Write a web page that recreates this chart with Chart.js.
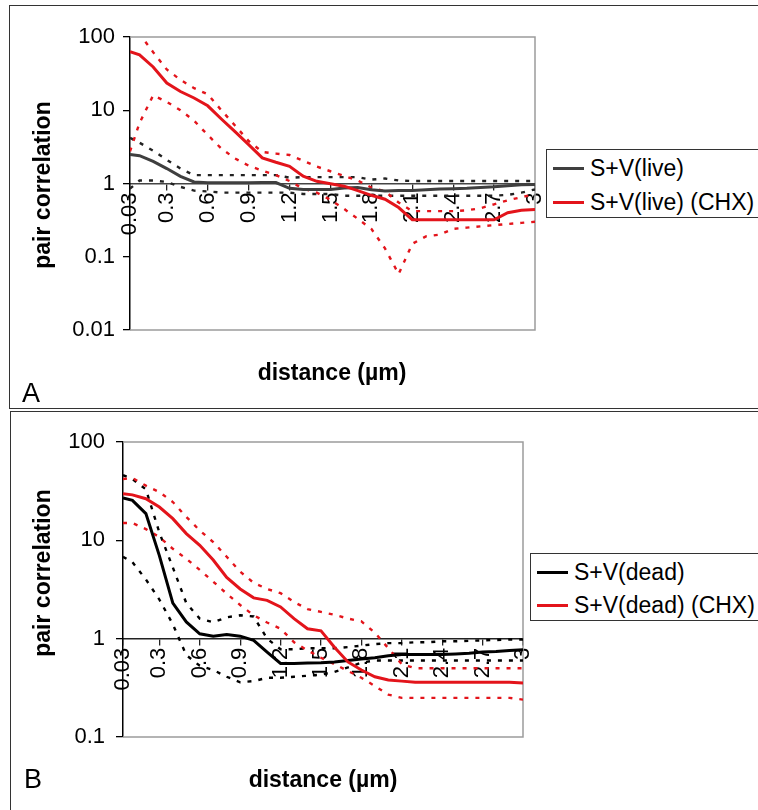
<!DOCTYPE html>
<html>
<head>
<meta charset="utf-8">
<script src="https://cdn.jsdelivr.net/npm/chart.js@4.4.1/dist/chart.umd.min.js"></script>
<style>
  body { margin: 0; width: 758px; height: 810px; overflow: hidden; background: #fff; position: relative;
         font-family: "Liberation Sans", Arial, sans-serif; color: #000; }
  .panel { position: absolute; border: 1.5px solid #333; }
  #panelA { left: 9px; top: 5px; width: 800px; height: 402px; }
  #panelB { left: 10px; top: 411px; width: 800px; height: 450px; }
  canvas { position: absolute; left: 0; }
  .ytitle { position: absolute; font-weight: bold; font-size: 23px; white-space: nowrap;
            transform: translate(-50%, -50%) rotate(-90deg); }
  .xtitle { position: absolute; font-weight: bold; font-size: 23px; white-space: nowrap;
            transform: translate(-50%, -50%); }
  .tag { position: absolute; font-size: 27px; }
  .legend { position: absolute; border: 1.5px solid #333; background: #fff; width: 260px; }
  .legend div { position: absolute; left: 6px; font-size: 23px; white-space: nowrap; line-height: 26px; }
  .legend span { display: inline-block; width: 31px; height: 0; border-top: 3px solid; vertical-align: middle;
                 margin-right: 6px; position: relative; top: -1px; }
</style>
</head>
<body>
<div class="panel" id="panelA"></div>
<div class="panel" id="panelB"></div>

<canvas id="chartA" width="758" height="410" style="top:0"></canvas>
<canvas id="chartB" width="758" height="400" style="top:410px"></canvas>

<div class="ytitle" style="left:42px; top:185px">pair correlation</div>
<div class="xtitle" style="left:332px; top:372px">distance (µm)</div>
<div class="tag" style="left:22px; top:378px">A</div>

<div class="ytitle" style="left:42px; top:573px">pair correlation</div>
<div class="xtitle" style="left:323px; top:779px">distance (µm)</div>
<div class="tag" style="left:24px; top:764px">B</div>

<div class="legend" id="legendA" style="left:546px; top:149px; height:67px"></div>
<div class="legend" id="legendB" style="left:530px; top:553px; height:66px"></div>

<script>
// distances (µm) where the curves were read
const distances = [0.03, 0.1, 0.2, 0.3, 0.4, 0.5, 0.6, 0.7, 0.8, 0.9, 1.0,
  1.1, 1.2, 1.3, 1.4, 1.5, 1.6, 1.7, 1.8, 1.9, 2.0,
  2.1, 2.2, 2.3, 2.4, 2.5, 2.6, 2.7, 2.8, 2.9, 3.0];

const xTicks = [0.03, 0.3, 0.6, 0.9, 1.2, 1.5, 1.8, 2.1, 2.4, 2.7, 3];
const xTickLabels = ["0.03", "0.3", "0.6", "0.9", "1.2", "1.5", "1.8", "2.1", "2.4", "2.7", "3"];

const yTicksA = [0.01, 0.1, 1, 10, 100];
const yTickLabelsA = ["0.01", "0.1", "1", "10", "100"];
const yTicksB = [0.1, 1, 10, 100];
const yTickLabelsB = ["0.1", "1", "10", "100"];

/////////////////////////////// panel A : live
const liveMean  = [2.48, 2.4, 2.0, 1.6, 1.25, 1.05, 1.02, 1.02, 1.02, 1.02, 1.03,
  1.03, 0.86, 0.83, 0.83, 0.83, 0.87, 0.88, 0.82, 0.79, 0.8,
  0.8, 0.82, 0.84, 0.85, 0.86, 0.88, 0.9, 0.93, 0.96, 0.97];
const liveUpper = [4.2, 3.6, 2.8, 2.1, 1.6, 1.3, 1.3, 1.3, 1.3, 1.3, 1.3,
  1.3, 1.2, 1.22, 1.22, 1.22, 1.22, 1.22, 1.13, 1.17, 1.1,
  1.08, 1.08, 1.08, 1.08, 1.08, 1.08, 1.08, 1.08, 1.08, 1.08];
const liveLower = [0.85, 1.1, 1.1, 1.05, 0.9, 0.8, 0.78, 0.75, 0.75, 0.75, 0.75,
  0.75, 0.75, 0.72, 0.72, 0.72, 0.68, 0.68, 0.68, 0.68, 0.68,
  0.68, 0.68, 0.68, 0.68, 0.68, 0.68, 0.68, 0.7, 0.75, 0.83];

const liveChxMean  = [63, 57, 39, 23.5, 18, 14.7, 11.5, 7.6, 5.1, 3.4, 2.24,
  1.95, 1.72, 1.26, 1.07, 0.99, 0.92, 0.8, 0.69, 0.61, 0.47,
  0.32, 0.32, 0.32, 0.32, 0.32, 0.32, 0.32, 0.4, 0.43, 0.44];
const liveChxUpper = [140, 110, 62, 36, 26, 20, 16.5, 10, 6.2, 3.8, 2.7,
  2.56, 2.45, 2.05, 1.7, 1.47, 1.27, 1.1, 0.88, 0.78, 0.55,
  0.42, 0.42, 0.42, 0.42, 0.43, 0.46, 0.52, 0.59, 0.65, 0.72];
const liveChxLower = [2.75, 6.7, 16, 13, 10, 7.2, 4.6, 3.0, 2.2, 1.75, 1.5,
  1.3, 1.08, 0.85, 0.75, 0.6, 0.45, 0.33, 0.24, 0.13, 0.058,
  0.15, 0.19, 0.2, 0.24, 0.25, 0.26, 0.27, 0.28, 0.29, 0.3];

/////////////////////////////// panel B : dead
const deadMean  = [27, 25.5, 18.7, 7.0, 2.3, 1.48, 1.12, 1.06, 1.1, 1.06, 0.96,
  0.73, 0.56, 0.56, 0.565, 0.57, 0.58, 0.6, 0.62, 0.64, 0.67,
  0.69, 0.69, 0.69, 0.69, 0.7, 0.71, 0.73, 0.74, 0.76, 0.77];
const deadUpper = [46, 42, 33, 12, 5.3, 2.3, 1.6, 1.47, 1.65, 1.73, 1.68,
  1.0, 0.78, 0.78, 0.8, 0.8, 0.8, 0.82, 0.85, 0.88, 0.9,
  0.9, 0.92, 0.92, 0.94, 0.94, 0.95, 0.96, 0.97, 0.98, 0.98];
const deadLower = [6.8, 6.0, 4.0, 2.5, 1.4, 0.68, 0.53, 0.48, 0.41, 0.36, 0.37,
  0.4, 0.4, 0.41, 0.42, 0.43, 0.46, 0.51, 0.57, 0.6, 0.6,
  0.6, 0.6, 0.6, 0.6, 0.6, 0.6, 0.6, 0.6, 0.6, 0.6];

const deadChxMean  = [29.8, 29, 26.5, 21.8, 16.6, 11.7, 8.9, 6.3, 4.2, 3.2, 2.6,
  2.45, 2.1, 1.6, 1.26, 1.2, 0.82, 0.58, 0.48, 0.41, 0.38,
  0.37, 0.36, 0.36, 0.36, 0.36, 0.36, 0.36, 0.36, 0.36, 0.355];
const deadChxUpper = [42, 43, 36, 31, 24.5, 17.3, 12.6, 9.6, 6.8, 4.8, 3.7,
  3.2, 2.9, 2.36, 2.0, 1.87, 1.75, 1.6, 1.5, 1.15, 0.8,
  0.55, 0.5, 0.5, 0.5, 0.5, 0.5, 0.5, 0.5, 0.5, 0.5];
const deadChxLower = [15, 15, 13, 10.8, 8.2, 6.5, 5.0, 3.8, 2.87, 2.2, 1.73,
  1.46, 1.26, 0.92, 0.76, 0.64, 0.55, 0.47, 0.4, 0.33, 0.27,
  0.25, 0.25, 0.25, 0.25, 0.25, 0.25, 0.25, 0.25, 0.25, 0.24];

const RED = "#e3141b";
const FONT = "'Liberation Sans', Arial, sans-serif";

// gray frame on top / right / bottom of the plot area (Excel style)
const plotFrame = {
  id: "plotFrame",
  beforeDatasetsDraw(chart) {
    const { ctx, chartArea: a } = chart;
    ctx.save();
    ctx.strokeStyle = "#9c9c9c";
    ctx.lineWidth = 1.5;
    ctx.beginPath();
    ctx.moveTo(a.left, a.top);
    ctx.lineTo(a.right, a.top);
    ctx.lineTo(a.right, a.bottom);
    ctx.lineTo(a.left, a.bottom);
    ctx.stroke();
    ctx.restore();
  }
};

function buildChart(id, o) {
  const ctx = document.getElementById(id).getContext("2d");
  return new Chart(ctx, {
    type: "line",
    data: {
      datasets: o.series.map(s => ({
        label: s.label,
        data: distances.map((d, i) => ({ x: d, y: s.values[i] })),
        borderColor: s.color,
        borderWidth: s.dashed ? 2.4 : 3,
        borderDash: s.dashed ? [4, 7] : [],
        pointRadius: 0,
        tension: 0,
        fill: false
      }))
    },
    options: {
      responsive: false,
      animation: false,
      events: [],
      layout: { padding: o.padding },
      plugins: { legend: { display: false }, tooltip: { enabled: false } },
      scales: {
        x: {
          type: "linear",
          min: 0.03,
          max: 3,
          position: { y: 1 },
          afterBuildTicks: s => { s.ticks = xTicks.map(v => ({ value: v })); },
          afterFit: s => { s.height = 0; },
          ticks: {
            autoSkip: false, minRotation: 90, maxRotation: 90, padding: 3,
            color: "#000", font: { family: FONT, size: 22 },
            callback: (v, i) => xTickLabels[i]
          },
          grid: { drawOnChartArea: false, drawTicks: true, tickLength: 6, color: "#222", lineWidth: 1.3 },
          border: { color: o.axisColor, width: 1.5 }
        },
        y: {
          type: "logarithmic",
          min: o.yMin,
          max: 100,
          afterBuildTicks: s => { s.ticks = o.yTicks.map(v => ({ value: v })); },
          afterFit: s => { s.width = o.yWidth; },
          ticks: {
            padding: o.yPad, color: "#000", font: { family: FONT, size: 22 },
            callback: (v, i) => o.yLabels[i]
          },
          grid: { drawOnChartArea: false, tickLength: 7, color: "#000", lineWidth: 1.3 },
          border: { color: "#000", width: 1.5 }
        }
      }
    },
    plugins: [plotFrame]
  });
}

function buildLegend(id, items, rowTops) {
  const box = document.getElementById(id);
  items.forEach((it, i) => {
    const row = document.createElement("div");
    row.style.top = rowTops[i] + "px";
    row.innerHTML = `<span style="border-color:${it.color}"></span>${it.label}`;
    box.appendChild(row);
  });
}

// panel A
buildChart("chartA", {
  padding: { left: 0, top: 37, right: 223, bottom: 80 },
  yWidth: 130, yPad: 8, yMin: 0.01,
  yTicks: yTicksA, yLabels: yTickLabelsA, axisColor: "#444",
  series: [
    { label: "S+V(live) (CHX)", values: liveChxMean, color: RED },
    { label: "S+V(live)", values: liveMean, color: "#3f3f3f" },
    { label: "upper CHX", values: liveChxUpper, color: RED, dashed: true },
    { label: "lower CHX", values: liveChxLower, color: RED, dashed: true },
    { label: "upper", values: liveUpper, color: "#222", dashed: true },
    { label: "lower", values: liveLower, color: "#222", dashed: true }
  ]
});

// panel B
buildChart("chartB", {
  padding: { left: 0, top: 32, right: 235, bottom: 73 },
  yWidth: 123, yPad: 11, yMin: 0.1,
  yTicks: yTicksB, yLabels: yTickLabelsB, axisColor: "#222",
  series: [
    { label: "S+V(dead) (CHX)", values: deadChxMean, color: RED },
    { label: "S+V(dead)", values: deadMean, color: "#000" },
    { label: "upper CHX", values: deadChxUpper, color: RED, dashed: true },
    { label: "lower CHX", values: deadChxLower, color: RED, dashed: true },
    { label: "upper", values: deadUpper, color: "#000", dashed: true },
    { label: "lower", values: deadLower, color: "#000", dashed: true }
  ]
});

buildLegend("legendA", [
  { label: "S+V(live)", color: "#3f3f3f" },
  { label: "S+V(live) (CHX)", color: RED }
], [5, 39]);

buildLegend("legendB", [
  { label: "S+V(dead)", color: "#000" },
  { label: "S+V(dead) (CHX)", color: RED }
], [5, 38]);
</script>
</body>
</html>
